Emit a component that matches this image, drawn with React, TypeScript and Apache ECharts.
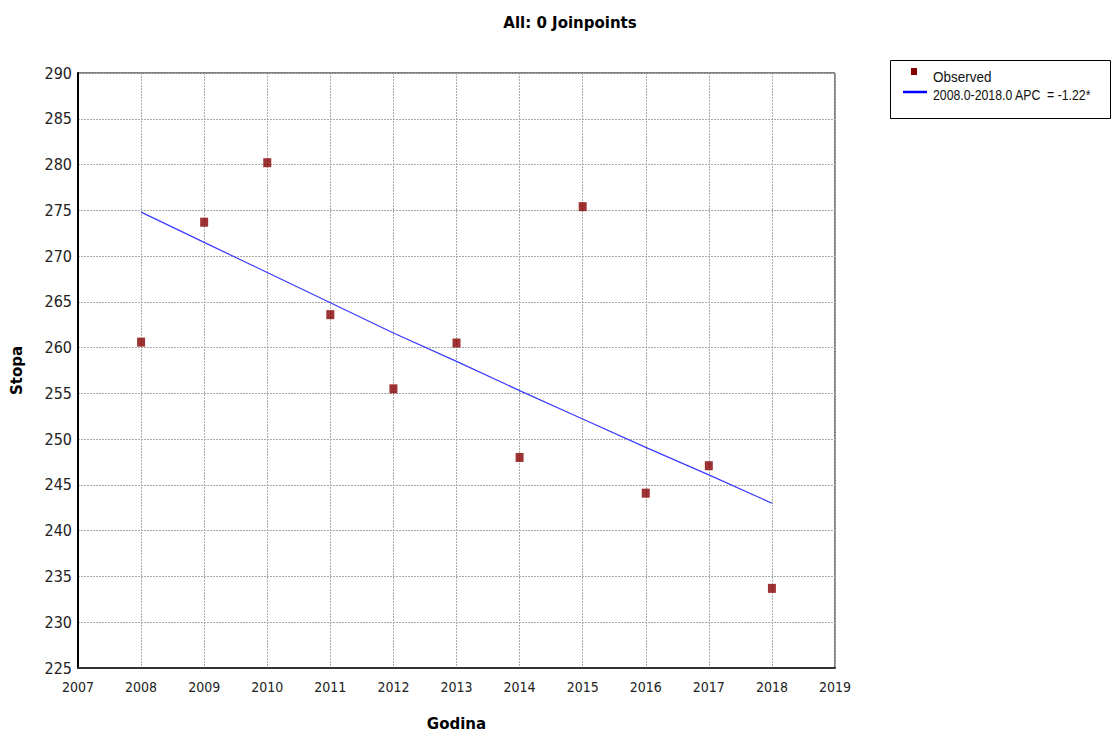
import React, { useEffect, useRef } from "react";
import * as echarts from "echarts";

const years = [2008, 2009, 2010, 2011, 2012, 2013, 2014, 2015, 2016, 2017, 2018];
const observed = [260.6, 273.7, 280.2, 263.6, 255.5, 260.5, 248.0, 275.4, 244.1, 247.1, 233.7];
const trend = [274.8, 271.5, 268.2, 264.9, 261.6, 258.5, 255.3, 252.2, 249.1, 246.1, 243.0];
const titleText = "All: 0 Joinpoints";
const legendObserved = "Observed";
const legendTrend = "2008.0-2018.0 APC  = -1.22*";

const narrow = "'DejaVu Sans Condensed', 'Liberation Sans Narrow', 'Liberation Sans', Arial, sans-serif";
const legendFont = "'Liberation Sans', Arial, sans-serif";
const bold = "'DejaVu Sans', Verdana, sans-serif";

export default function App() {
  const ref = useRef<HTMLDivElement>(null);
  useEffect(() => {
    document.body.style.margin = "0";
    const chart = echarts.init(ref.current!, null, { renderer: "svg" });
    chart.setOption({
      animation: false,
      backgroundColor: "#ffffff",
      title: {
        text: titleText,
        left: 565,
        textAlign: "center",
        top: 10,
        textStyle: { fontFamily: bold, fontSize: 15, fontWeight: "bold", color: "#000" },
      },
      grid: {
        left: 78,
        right: 277,
        top: 73,
        bottom: 65,
        containLabel: false,
        outerBoundsMode: "none",
        show: true,
        borderColor: "#000",
        borderWidth: 1,
        backgroundColor: "transparent",
      },
      xAxis: {
        type: "value",
        min: 2007,
        max: 2019,
        interval: 1,
        name: "Godina",
        nameLocation: "middle",
        nameGap: 48,
        nameTextStyle: { fontFamily: bold, fontSize: 15, fontWeight: "bold", color: "#000" },
        axisLine: { show: true, lineStyle: { color: "#333", width: 2 } },
        axisTick: { show: false },
        axisLabel: { fontFamily: narrow, fontSize: 14, color: "#222", margin: 12, formatter: (v: number) => String(v) },
        splitLine: { show: true, lineStyle: { color: "#aaa", type: [2, 1], width: 1 } },
      },
      yAxis: {
        type: "value",
        min: 225,
        max: 290,
        interval: 5,
        name: "Stopa",
        nameLocation: "middle",
        nameGap: 54,
        nameRotate: 90,
        nameTextStyle: { fontFamily: bold, fontSize: 15, fontWeight: "bold", color: "#000" },
        axisLine: { show: true, lineStyle: { color: "#000", width: 2 } },
        axisTick: { show: false },
        axisLabel: { fontFamily: narrow, fontSize: 16, color: "#222", margin: 6 },
        splitLine: { show: true, lineStyle: { color: "#aaa", type: [2, 1], width: 1 } },
      },
      series: [
        {
          name: legendTrend,
          type: "line",
          data: years.map((y, i) => [y, trend[i]]),
          showSymbol: false,
          smooth: false,
          lineStyle: { color: "#3a3aff", width: 1.2 },
          z: 2,
        },
        {
          name: legendObserved,
          type: "scatter",
          data: years.map((y, i) => [y, observed[i]]),
          symbol: "rect",
          symbolSize: [8, 9],
          itemStyle: { color: "#850000" },
          z: 3,
        },
      ],
      graphic: [
        {
          type: "rect",
          shape: { x: 890.5, y: 60.5, width: 220, height: 58 },
          style: { fill: "#fff", stroke: "#000", lineWidth: 1 },
        },
        {
          type: "rect",
          shape: { x: 911, y: 68, width: 6, height: 7 },
          style: { fill: "#850000" },
        },
        {
          type: "text",
          x: 933,
          y: 77,
          scaleX: 0.9,
          style: { text: legendObserved, fontFamily: legendFont, fontSize: 15, fill: "#111", verticalAlign: "middle" },
        },
        {
          type: "line",
          shape: { x1: 903, y1: 92, x2: 927, y2: 92 },
          style: { stroke: "#0000ff", lineWidth: 2.5 },
        },
        {
          type: "text",
          x: 933,
          y: 95,
          scaleX: 0.82,
          style: { text: legendTrend, fontFamily: legendFont, fontSize: 15, fill: "#111", verticalAlign: "middle" },
        },
      ],
    });
    return () => chart.dispose();
  }, []);
  return <div ref={ref} style={{ width: 1112, height: 733 }} />;
}
